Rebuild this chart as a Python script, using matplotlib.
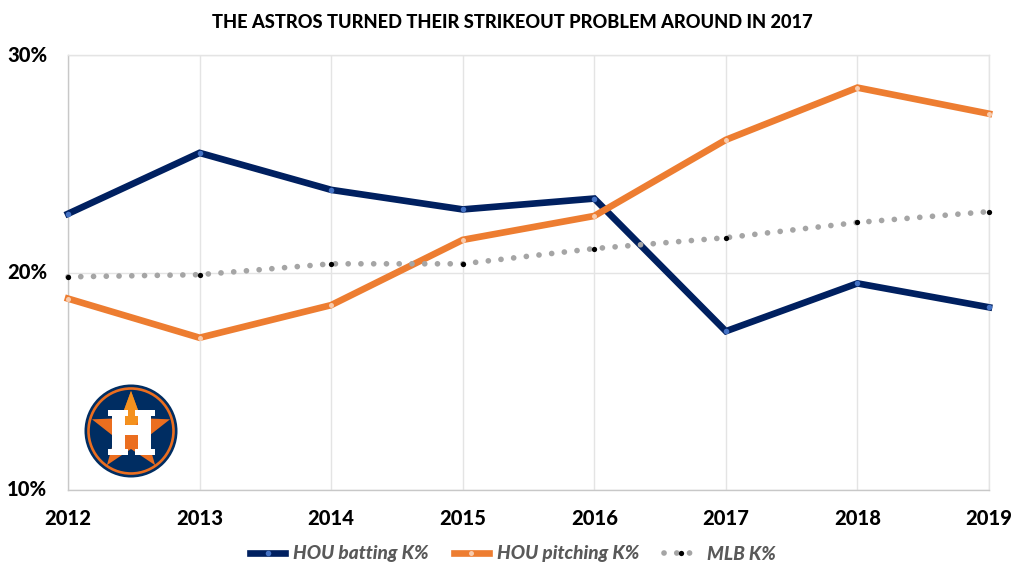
import numpy as np
import matplotlib
matplotlib.use('Agg')
import matplotlib.pyplot as plt
from matplotlib.patches import Circle, Polygon, Rectangle

years = ['2012', '2013', '2014', '2015', '2016', '2017', '2018', '2019']
batting = [22.7, 25.5, 23.8, 22.9, 23.4, 17.3, 19.5, 18.4]
pitching = [18.8, 17.0, 18.5, 21.5, 22.6, 26.1, 28.5, 27.3]
mlb = [19.8, 19.9, 20.4, 20.4, 21.1, 21.6, 22.3, 22.8]
y_ticks = [10, 20, 30]

plt.rcParams['font.family'] = ['Lato', 'DejaVu Sans']

W, H = 1024, 576
fig = plt.figure(figsize=(W / 100, H / 100), dpi=100)
ax = fig.add_axes([68 / W, 1 - 490 / H, (989 - 68) / W, (490 - 55) / H])

x = np.arange(len(years))
l1, = ax.plot(x, batting, color='#002060', lw=4.8, marker='o', ms=4, mfc='#4472c4', mec='none',
              solid_joinstyle='miter', clip_on=False, zorder=3, label='HOU batting K%')
l2, = ax.plot(x, pitching, color='#ed7d31', lw=4.8, marker='o', ms=3.6, mfc='#f8cbad', mec='none',
              solid_joinstyle='miter', clip_on=False, zorder=4, label='HOU pitching K%')
l3, = ax.plot(x, mlb, color='#a5a5a5', lw=4.1, linestyle=(0, (0.01, 2.23)), dash_capstyle='round',
              marker='o', ms=3.8, mfc='black', mec='none', clip_on=False, zorder=5, label='MLB K%')

ax.set_xlim(0, len(years) - 1)
ax.set_ylim(10, 30)
ax.set_xticks(x)
ax.set_xticklabels(years, fontsize=14.5, fontweight='black', color='black')
ax.set_yticks(y_ticks)
ax.set_yticklabels([f'{v}%' for v in y_ticks], fontsize=14.5, fontweight='black', color='black')
ax.tick_params(length=0)
ax.tick_params(axis='y', pad=15)
ax.tick_params(axis='x', pad=14)
for label in ax.get_yticklabels():
    label.set_verticalalignment('center')
ax.grid(True, color='#e4e4e4', lw=1)
ax.set_axisbelow(True)
for s in ['top', 'right']:
    ax.spines[s].set_color('#e4e4e4')
    ax.spines[s].set_linewidth(1)
for s in ['left', 'bottom']:
    ax.spines[s].set_color('#c8c8c8')
    ax.spines[s].set_linewidth(1)

fig.text(512 / W, 1 - 22 / H, 'THE ASTROS TURNED THEIR STRIKEOUT PROBLEM AROUND IN 2017',
         ha='center', va='center', fontsize=13.15, fontweight='black', color='black')

leg = fig.legend(handles=[l1, l2, l3], loc='center', bbox_to_anchor=(513 / W, 1 - 554 / H), ncol=3,
                 frameon=False, numpoints=1, handlelength=1.84, columnspacing=1.3, handletextpad=0.42,
                 prop={'size': 13.7, 'weight': 'black', 'style': 'italic'})
for t in leg.get_texts():
    t.set_color('#595959')

# team logo, drawn in pixel coordinates
logo = fig.add_axes([0, 0, 1, 1], zorder=10)
logo.set_xlim(0, W)
logo.set_ylim(H, 0)
logo.axis('off')
logo.patch.set_alpha(0)
cx, cy = 131, 431
logo.add_patch(Circle((cx, cy), 46.5, color='#002d62', lw=0))
logo.add_patch(Circle((cx, cy), 42.5, fc='none', ec='#eb6e1f', lw=1.9))
ang = np.deg2rad(-90 + 36 * np.arange(10))
rad = np.where(np.arange(10) % 2 == 0, 41, 17)
star = np.column_stack([cx + rad * np.cos(ang), cy + 1 + rad * np.sin(ang)])
logo.add_patch(Polygon(star, color='#eb6e1f', lw=0))
logo.add_patch(Polygon([star[0], star[1], [cx, cy], star[9]], color='#f4911e', lw=0))
# H with serifs, offsets from the logo centre
for rx, ry, rw, rh in [(-23, -21, 20, 6), (4, -21, 20, 6), (-19, -21, 13, 45), (7, -21, 13, 45),
                       (-23, 18, 20, 6), (4, 18, 20, 6), (-8, -6, 17, 10)]:
    logo.add_patch(Rectangle((cx + rx, cy + ry), rw, rh, color='white', lw=0))

fig.savefig('out.png', dpi=100)
